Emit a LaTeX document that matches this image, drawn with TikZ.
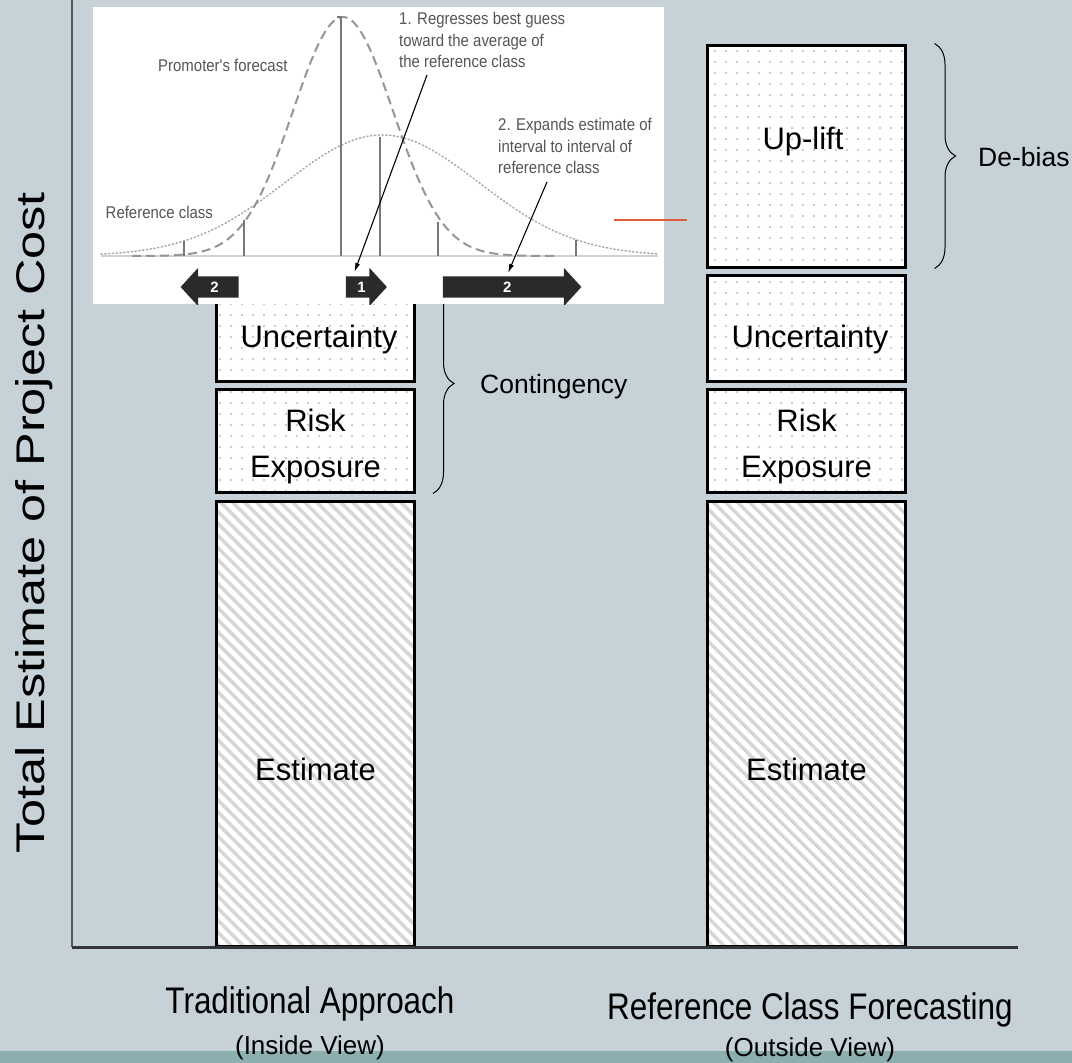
\documentclass[tikz,border=0pt]{standalone}
\usepackage{fontspec}
\setmainfont{Liberation Sans}
\newfontfamily\narrowfont[FakeStretch=0.85]{Liberation Sans}
\newfontfamily\insetfont[FakeStretch=0.88]{Liberation Sans}
\newfontfamily\tallfont[FakeStretch=1.26]{Liberation Sans}
\usetikzlibrary{arrows.meta,positioning,calc,decorations.pathreplacing,patterns.meta,shapes.arrows}
\definecolor{SlideBg}{RGB}{198,209,216}
\definecolor{StripTeal}{RGB}{139,174,174}
\definecolor{AxisGray}{RGB}{85,88,92}
\definecolor{AxisDark}{RGB}{50,54,58}
\definecolor{DotGray}{RGB}{188,188,188}
\definecolor{StripeGray}{RGB}{214,214,214}
\definecolor{InsetInk}{RGB}{85,85,85}
\definecolor{CurveGray}{RGB}{150,150,150}
\definecolor{TickGray}{RGB}{120,120,120}
\definecolor{ArrowInk}{RGB}{42,42,42}
\definecolor{Marker}{RGB}{222,92,58}
\tikzset{
  >=Latex,
  costbox/.style={draw=black,line width=3pt,minimum width=198pt,inner sep=0pt,preaction={fill=white}},
  dotbox/.style={costbox,pattern={Dots[distance=11pt,radius=1.05pt]},pattern color=DotGray},
  stripebox/.style={costbox,pattern={Lines[angle=-45,distance=8.5pt,line width=3.5pt]},pattern color=StripeGray},
  boxtext/.style={font=\fontsize{31}{46}\selectfont,align=center,inner sep=0pt},
  bracetext/.style={font=\fontsize{26.5}{32}\selectfont,anchor=base west,inner sep=0pt},
  curly/.style={decorate,decoration={brace,amplitude=21pt},line width=1pt},
  caption/.style={font=\narrowfont\fontsize{37}{40}\selectfont,anchor=base,inner sep=0pt},
  subcaption/.style={font=\fontsize{26}{30}\selectfont,anchor=base,inner sep=0pt},
  insettext/.style={font=\insetfont\fontsize{17}{21.5}\selectfont,text=InsetInk,inner sep=0pt,align=left},
  promoter/.style={draw=CurveGray,line width=2pt,dash pattern=on 9pt off 5pt},
  refcurve/.style={draw=CurveGray!85,line width=1.5pt,dash pattern=on 1.2pt off 2.6pt,line cap=round},
  fatarrow/.style={single arrow,fill=ArrowInk,text=white,font=\bfseries\fontsize{15}{15}\selectfont,inner xsep=0pt,inner ysep=5.5pt,text height=10pt,text depth=0pt,single arrow head extend=8.5pt,single arrow tip angle=95},
  pointer/.style={-{Latex[length=9pt,width=5pt]},line width=1.1pt,draw=black}
}
\begin{document}
\begin{tikzpicture}[x=1pt,y=-1pt]
  \useasboundingbox (0,0) rectangle (1072,1063);
  \fill[SlideBg] (0,0) rectangle (1072,1063);
  \fill[StripTeal] (0,1051) rectangle (1072,1063);
  % cost stacks
  \node[dotbox,minimum height=106pt] (uncL) at (315.5,328) {};
  \node[dotbox,minimum height=103pt] (riskL) at (315.5,440.5) {};
  \node[stripebox,minimum height=445pt] (estL) at (315.5,723.5) {};
  \node[dotbox,minimum height=222pt] (uplift) at (806.5,156) {};
  \node[dotbox,minimum height=106pt] (uncR) at (806.5,328) {};
  \node[dotbox,minimum height=103pt] (riskR) at (806.5,440.5) {};
  \node[stripebox,minimum height=445pt] (estR) at (806.5,723.5) {};
  \node[boxtext,anchor=base] (uncLtext) at (319,347) {Uncertainty};
  \node[boxtext] (riskLtext) at (315.5,446) {Risk\\Exposure};
  \node[boxtext,anchor=base] (estLtext) at (315.5,780) {Estimate};
  \node[boxtext,anchor=base] (upliftText) at (803,149) {Up-lift};
  \node[boxtext,anchor=base] (uncRtext) at (810,347) {Uncertainty};
  \node[boxtext] (riskRtext) at (806.5,446) {Risk\\Exposure};
  \node[boxtext,anchor=base] (estRtext) at (806.5,780) {Estimate};
  % braces
  \draw[curly] ([xshift=17pt]uncL.north east) -- ([xshift=17pt]riskL.south east);
  \node[bracetext] (contText) at (480,393) {Contingency};
  \draw[curly] ([xshift=27.5pt]uplift.north east) -- ([xshift=27.5pt]uplift.south east);
  \node[bracetext] (debiasText) at (978,166) {De-bias};
  % axes
  \coordinate (origin) at (72,947);
  \coordinate (yTop) at (72,0);
  \coordinate (xEnd) at (1018,947);
  \draw[AxisGray,line width=2pt] (yTop) -- (origin);
  \draw[AxisDark,line width=3pt] (origin) -- (xEnd);
  \node[font=\tallfont\fontsize{40}{44}\selectfont,rotate=90,anchor=base,inner sep=0pt] (yLabel) at (45,522.5) {Total Estimate of Project Cost};
  % inset chart
  \node[fill=white,minimum width=571pt,minimum height=297pt,inner sep=0pt] (inset) at (378.5,155.5) {};
  \begin{scope}
    \clip (inset.north west) rectangle (inset.south east);
    \draw[line width=1.5pt,gray!35] (101,256) -- (658,256);
    \draw[refcurve] plot[domain=101:658,samples=160] (\x,{256-121*exp(-0.5*((\x-382)/97)*((\x-382)/97))});
    \draw[promoter] plot[domain=132:556,samples=140] (\x,{256-239*exp(-0.5*((\x-343)/50)*((\x-343)/50))});
    \foreach \x/\t in {341/16,380/137,243.5/220,438/222,183.6/241,576/240}
      \draw[TickGray,line width=2pt] (\x,256) -- (\x,\t);
    \draw[TickGray,line width=1.2pt] (337,17) -- (342,17);
    \node[fatarrow,minimum height=58pt,shape border rotate=180] (fatLeft) at (214.5,287) {2};
    \node[fatarrow,minimum height=41pt] (fatMid) at (361.5,287) {1};
    \node[fatarrow,minimum height=138.5pt] (fatRight) at (507.25,287) {2};
  \end{scope}
  \node[insettext,anchor=base west] (promoLabel) at (158,71) {Promoter's forecast};
  \node[insettext,anchor=base west] (refLabel) at (105.5,218) {Reference class};
  \node[insettext,anchor=north west] (regressNote) at (399,12) {1. Regresses best guess\\toward the average of\\the reference class};
  \node[insettext,anchor=north west] (expandNote) at (498,118) {2. Expands estimate of\\interval to interval of\\reference class};
  \coordinate (regressTail) at (427,75);
  \coordinate (expandTail) at (547,182);
  \draw[pointer] (regressTail) -- ([shift={(-7pt,15pt)}]fatMid.center);
  \draw[pointer] (expandTail) -- ([shift={(0.75pt,14pt)}]fatRight.center);
  \coordinate (markA) at (614,220);
  \coordinate (markB) at (687,220);
  \draw[Marker,line width=2pt] (markA) -- (markB);
  % captions
  \node[caption] (tradCap) at (310,1013) {Traditional Approach};
  \node[subcaption] (insideCap) at (310,1054) {(Inside View)};
  \node[caption] (rcfCap) at (810,1019) {Reference Class Forecasting};
  \node[subcaption] (outsideCap) at (810,1056) {(Outside View)};
\end{tikzpicture}
\end{document}
